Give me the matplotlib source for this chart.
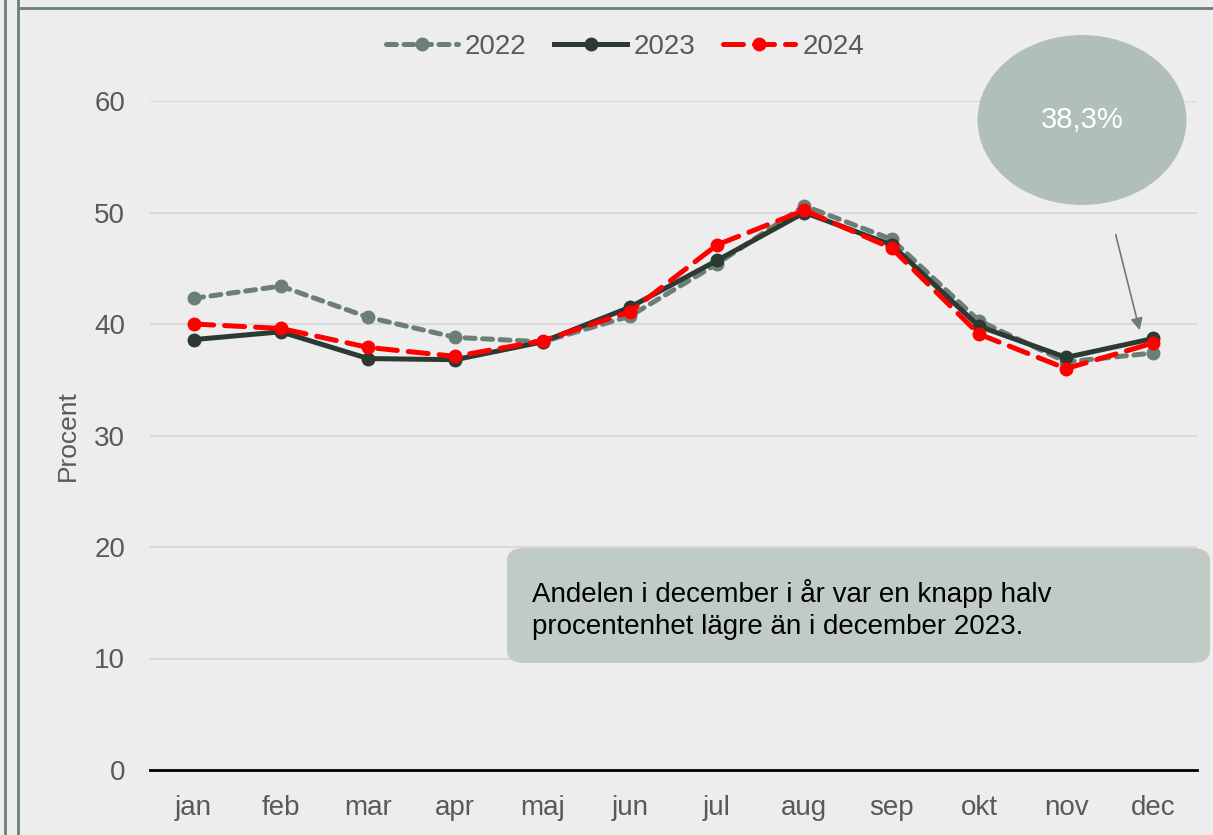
import matplotlib.pyplot as plt
from matplotlib.lines import Line2D
from matplotlib.patches import Ellipse, FancyBboxPatch

plt.rcParams["font.family"] = ["Liberation Sans", "DejaVu Sans"]

months = ["jan", "feb", "mar", "apr", "maj", "jun", "jul", "aug", "sep", "okt", "nov", "dec"]
values_2022 = [42.3, 43.4, 40.6, 38.8, 38.4, 40.7, 45.4, 50.6, 47.6, 40.3, 36.6, 37.4]
values_2023 = [38.6, 39.3, 36.9, 36.8, 38.4, 41.5, 45.7, 50.0, 47.1, 39.8, 37.0, 38.7]
values_2024 = [40.0, 39.6, 37.9, 37.1, 38.5, 41.1, 47.1, 50.2, 46.8, 39.1, 36.0, 38.3]
y_ticks = [0, 10, 20, 30, 40, 50, 60]
callout_value = "38,3%"
note_text = "Andelen i december i år var en knapp halv\nprocentenhet lägre än i december 2023."

BG = "#ededed"
C2022 = "#6b7f75"
C2023 = "#2b3a33"
C2024 = "#ff0000"
TXT = "#595959"

W, H = 1213, 835
fig = plt.figure(figsize=(W / 100, H / 100), dpi=100, facecolor=BG)
ax = fig.add_axes([150 / W, 1 - 770 / H, (1197 - 150) / W, (770 - 101) / H])
ax.set_facecolor(BG)

x = range(len(months))
ax.plot(x, values_2022, color=C2022, lw=3.6, ls=(0, (2.0, 1.5)), marker="o", ms=9,
        dash_capstyle="round", label="2022", zorder=3)
ax.plot(x, values_2023, color=C2023, lw=3.6, marker="o", ms=9, label="2023", zorder=4)
ax.plot(x, values_2024, color=C2024, lw=3.6, ls=(0, (4.0, 2.2)), marker="o", ms=9,
        dash_capstyle="round", label="2024", zorder=5)

ax.set_xlim(-0.5, len(months) - 0.5)
ax.set_ylim(0, 60)
ax.set_yticks(y_ticks)
ax.set_xticks(list(x))
ax.set_xticklabels(months)
ax.grid(axis="y", color="#d9d9d9", lw=1.5)
ax.set_axisbelow(True)
for side in ["top", "right", "left"]:
    ax.spines[side].set_visible(False)
ax.spines["bottom"].set_color("black")
ax.spines["bottom"].set_linewidth(2)
ax.tick_params(axis="both", length=0, labelsize=20, colors=TXT)
ax.tick_params(axis="y", pad=18)
ax.tick_params(axis="x", pad=18)
ax.set_ylabel("Procent", fontsize=19, color=TXT)
ax.yaxis.set_label_coords((80 - 150) / 1047, 0.5)

fig.legend(loc="center", bbox_to_anchor=(625 / W, 1 - 47 / H), ncol=3, frameon=False,
           fontsize=20, handlelength=2.6, columnspacing=1.0, handletextpad=0.25,
           labelcolor=TXT)

# callout bubble and arrow
fig.patches.append(Ellipse((1082 / W, 1 - 120 / H), 209 / W, 170 / H, transform=fig.transFigure,
                           facecolor="#b0c0b8", edgecolor="none", zorder=6))
fig.text(1082 / W, 1 - 120 / H, callout_value, color="white", fontsize=21,
         ha="center", va="center", zorder=7)
ax.annotate("", xy=(11 - 13 / 87.3, values_2024[-1] + 0.9), xycoords="data",
            xytext=(1115 / W, 1 - 232 / H), textcoords="figure fraction",
            arrowprops=dict(arrowstyle="-|>", color=C2022, lw=1.2, mutation_scale=18))

# text box
fig.patches.append(FancyBboxPatch((507 / W, 1 - 663 / H), (1210 - 507) / W, (663 - 548) / H,
                                  boxstyle="round,pad=0,rounding_size=0.015",
                                  transform=fig.transFigure, facecolor="#c0cbc5",
                                  edgecolor="none", zorder=6))
fig.text(532 / W, 1 - 610 / H, note_text, color="black", fontsize=20, ha="left", va="center",
         linespacing=1.3, zorder=7)

# frame
for xx in [5, 18]:
    fig.add_artist(Line2D([xx / W, xx / W], [0, 1], color=C2022, lw=2))
fig.add_artist(Line2D([18 / W, 1], [1 - 8 / H, 1 - 8 / H], color=C2022, lw=2))

fig.savefig("out.png", dpi=100, facecolor=BG)
